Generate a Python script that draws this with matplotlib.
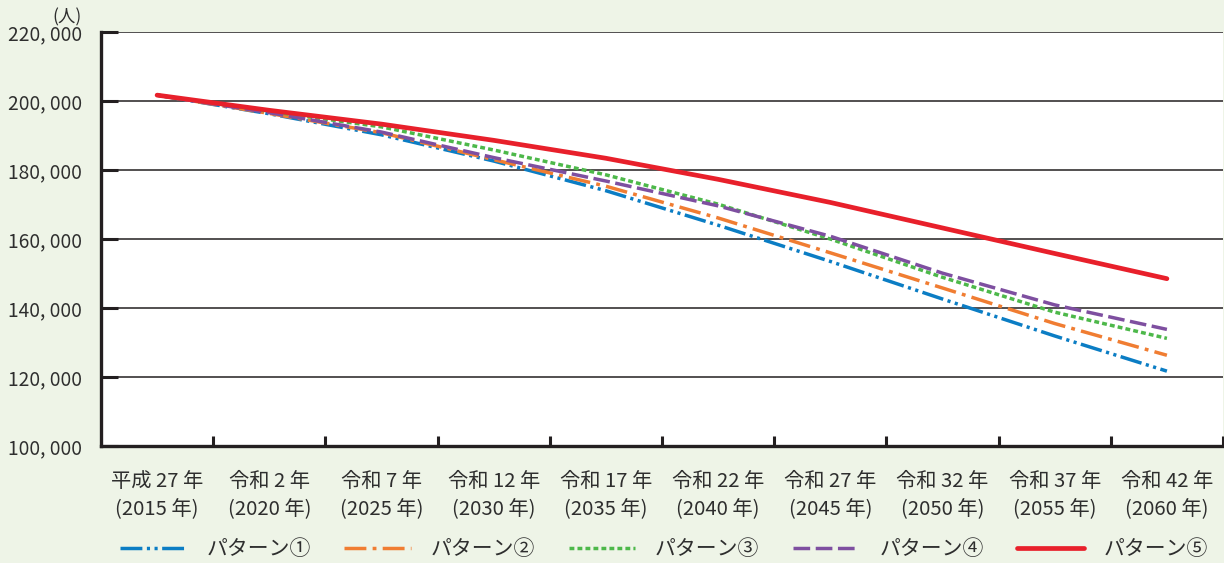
import matplotlib
matplotlib.use("Agg")
import matplotlib.pyplot as plt
from matplotlib.ticker import FixedLocator

plt.rcParams['font.family'] = ['Noto Sans CJK JP', 'DejaVu Sans']

# data (persons)
years_jp = ["平成 27 年", "令和 2 年", "令和 7 年", "令和 12 年", "令和 17 年",
            "令和 22 年", "令和 27 年", "令和 32 年", "令和 37 年", "令和 42 年"]
years_ad = ["(2015 年)", "(2020 年)", "(2025 年)", "(2030 年)", "(2035 年)",
            "(2040 年)", "(2045 年)", "(2050 年)", "(2055 年)", "(2060 年)"]

pattern1 = [201700, 196300, 190200, 182600, 174000, 164000, 153500, 142600, 131900, 121700]
pattern2 = [201700, 196400, 190800, 183000, 175300, 166100, 156000, 145800, 135500, 126300]
pattern3 = [201700, 197000, 192500, 185800, 178600, 170100, 160000, 148900, 138800, 131200]
pattern4 = [201700, 196600, 191000, 183600, 176800, 169600, 160800, 150100, 140900, 133800]
pattern5 = [201700, 197300, 193300, 188600, 183400, 177300, 170600, 163200, 155800, 148500]

series_names = ["パターン①", "パターン②", "パターン③", "パターン④", "パターン⑤"]
series_values = [pattern1, pattern2, pattern3, pattern4, pattern5]
colors = ["#0b7dc4", "#f07d32", "#4db84a", "#7e4fa0", "#e8202b"]
dashes = [(6.3, 1.3, 0.9, 1.3, 0.9, 1.3), (6.3, 1.8, 1.1, 1.8), (1.4, 0.9), (4.8, 1.6), None]
widths = [2.5, 2.5, 2.5, 2.5, 3.4]

bg = "#eef4e7"
text_color = "#2e2e2e"

fig = plt.figure(figsize=(12.24, 5.63), dpi=100, facecolor=bg)
ax = fig.add_axes([101 / 1224, 1 - 446 / 563, 1122 / 1224, (446 - 32) / 563])
ax.set_facecolor("white")

x = list(range(len(years_jp)))
handles = []
for name, vals, c, d, w in zip(series_names, series_values, colors, dashes, widths):
    ln, = ax.plot(x, vals, color=c, lw=w, label=name, solid_capstyle="round")
    if d is not None:
        ln.set_dashes(d)
        ln.set_dash_capstyle("butt")
    handles.append(ln)

ax.set_xlim(-0.5, len(x) - 0.5)
ax.set_ylim(100000, 220000)
yticks = list(range(100000, 220001, 20000))
ax.set_yticks(yticks)
ax.set_yticklabels([f"{v:,}".replace(",", ", ") for v in yticks])
ax.yaxis.grid(True, color="#231f20", lw=1.1)
ax.set_axisbelow(True)

ax.set_xticks(x)
ax.set_xticklabels([f"{a}\n{b}" for a, b in zip(years_jp, years_ad)], linespacing=1.4)
ax.xaxis.set_minor_locator(FixedLocator([i + 0.5 for i in range(len(x))]))

ax.tick_params(axis="y", direction="in", length=12, width=2.2, color="#231f20",
               labelsize=13.8, labelcolor=text_color, pad=13.5)
ax.tick_params(axis="x", which="major", length=0, labelsize=14.6, labelcolor=text_color, pad=18)
ax.tick_params(axis="x", which="minor", direction="in", length=7.5, width=2.2, color="#231f20")

for s in ["top", "right"]:
    ax.spines[s].set_visible(False)
for s in ["left", "bottom"]:
    ax.spines[s].set_linewidth(2.4)
    ax.spines[s].set_color("#231f20")

fig.text(82 / 1224, 1 - 17 / 563, "(人)", ha="right", va="center", fontsize=12.5, color=text_color)

fig.legend(handles=handles, loc="center", bbox_to_anchor=(664 / 1224, 1 - 549 / 563), ncol=5,
           frameon=False, fontsize=15, handlelength=3.2, handletextpad=0.95,
           columnspacing=1.6, labelcolor=text_color)

fig.savefig("out.png", dpi=100, facecolor=bg)
